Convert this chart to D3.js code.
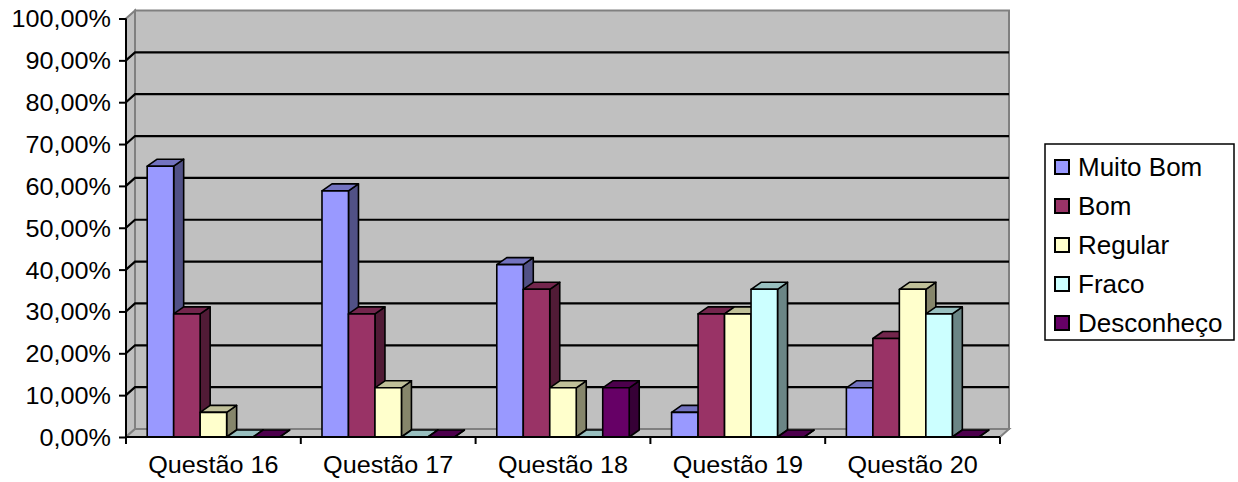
<!DOCTYPE html>
<html>
<head>
<meta charset="utf-8">
<script src="https://cdn.jsdelivr.net/npm/d3@7"></script>
<style>
  body { margin: 0; background: #fff; }
  text { font-family: "Liberation Sans", Arial, sans-serif; fill: #000; }
</style>
</head>
<body>
<div class="chart"></div>
<script>
(() => {
  const categories = ["Questão 16", "Questão 17", "Questão 18", "Questão 19", "Questão 20"];
  const seriesNames = ["Muito Bom", "Bom", "Regular", "Fraco", "Desconheço"];
  const muitoBom = [0.6471, 0.5882, 0.4118, 0.0588, 0.1176];
  const bom = [0.2941, 0.2941, 0.3529, 0.2941, 0.2353];
  const regular = [0.0588, 0.1176, 0.1176, 0.2941, 0.3529];
  const fraco = [0, 0, 0, 0.3529, 0.2941];
  const desconheco = [0, 0, 0.1176, 0, 0];
  const colors = ["#9999ff", "#993366", "#ffffcc", "#ccffff", "#660066"];

  const seriesValues = [muitoBom, bom, regular, fraco, desconheco];

  const width = 1238, height = 482;
  const left = 126, right = 1000, bottom = 437, top = 18.5;
  const wallDx = 9, wallDy = 8; // depth of the walls
  const barDx = 10, barDy = 7; // depth of each column
  const sx = 1.05; // fonts look a bit wider than Liberation Sans

  const pt = d3.formatLocale({ decimal: ",", thousands: ".", grouping: [3], currency: ["", ""] });
  const fmt = pt.format(".2%");

  const svg = d3.select(".chart").append("svg")
    .attr("width", width).attr("height", height);

  const x0 = d3.scaleBand().domain(categories).range([left, right]).padding(0);
  const x1 = d3.scaleBand().domain(seriesNames).range([0, x0.bandwidth()])
    .paddingInner(0).paddingOuter(0.8);
  const y = d3.scaleLinear().domain([0, 1]).range([bottom, top]);

  const poly = (pts) => "M" + pts.map((p) => p.join(",")).join("L") + "Z";

  // walls and floor
  const walls = svg.append("g").attr("class", "walls");
  walls.append("path")
    .attr("d", poly([[left + wallDx, y(1) - wallDy], [right + wallDx, y(1) - wallDy],
      [right + wallDx, y(0) - wallDy], [left + wallDx, y(0) - wallDy]]))
    .style("fill", "#c0c0c0").style("stroke", "#808080").style("stroke-width", 2);
  walls.append("path")
    .attr("d", poly([[left, y(1)], [left + wallDx, y(1) - wallDy],
      [left + wallDx, y(0) - wallDy], [left, y(0)]]))
    .style("fill", "#c0c0c0").style("stroke", "#808080").style("stroke-width", 2);
  walls.append("path")
    .attr("d", poly([[left, y(0)], [left + wallDx, y(0) - wallDy],
      [right + wallDx, y(0) - wallDy], [right, y(0)]]))
    .style("fill", "#c0c0c0").style("stroke", "#808080").style("stroke-width", 2);

  // gridlines
  const ticks = y.ticks(10);
  walls.selectAll(".grid")
    .data(ticks.filter((t) => t > 0 && t < 1))
    .enter().append("path")
    .attr("class", "grid")
    .attr("d", (t) => `M${left},${y(t)}L${left + wallDx},${y(t) - wallDy}L${right + wallDx},${y(t) - wallDy}`)
    .style("fill", "none").style("stroke", "#000").style("stroke-width", 2.2);

  // columns
  const shade = (c, k) => d3.rgb(c).darker(k).formatHex();
  const groups = svg.selectAll(".cat")
    .data(categories).enter().append("g")
    .attr("class", "cat")
    .attr("transform", (c) => `translate(${x0(c)},0)`);

  groups.each(function (c, ci) {
    const g = d3.select(this);
    seriesNames.forEach((s, si) => {
      const v = seriesValues[si][ci];
      const xa = x1(s), xb = xa + x1.bandwidth();
      const yt = y(v), yb = y(0);
      const bar = g.append("g").attr("class", "bar");
      bar.append("path")
        .attr("d", poly([[xb, yt], [xb + barDx, yt - barDy], [xb + barDx, yb - barDy], [xb, yb]]))
        .style("fill", shade(colors[si], 1.8));
      bar.append("path")
        .attr("d", poly([[xa, yt], [xb, yt], [xb + barDx, yt - barDy], [xa + barDx, yt - barDy]]))
        .style("fill", shade(colors[si], 0.8));
      if (v > 0) {
        bar.append("rect")
          .attr("x", xa).attr("y", yt)
          .attr("width", x1.bandwidth()).attr("height", yb - yt)
          .style("fill", colors[si]);
      }
      bar.selectAll("path,rect")
        .style("stroke", "#000").style("stroke-width", 1.6).style("stroke-linejoin", "round");
    });
  });

  // y axis
  const yAxis = svg.append("g")
    .attr("transform", `translate(${left},0)`)
    .call(d3.axisLeft(y).tickValues(ticks).tickFormat(fmt).tickSize(7).tickPadding(8));
  yAxis.select(".domain").attr("d", `M0,${y(1)}V${y(0)}`).style("stroke-width", 2);
  yAxis.selectAll(".tick line").style("stroke-width", 2);
  yAxis.selectAll("text").style("font-size", "24px")
    .attr("transform", `scale(${sx},1)`).attr("x", -15 / sx).attr("dy", "0.35em");

  // x axis
  const xAxis = svg.append("g")
    .attr("transform", `translate(0,${bottom})`)
    .call(d3.axisBottom(x0).tickSize(0).tickPadding(28));
  xAxis.select(".domain").attr("d", `M${left},0H${right}`).style("stroke-width", 2);
  xAxis.selectAll("text").style("font-size", "24px")
    .attr("transform", `scale(${sx},1)`)
    .attr("dy", "0.35em");
  xAxis.selectAll(".tick text").each(function () {
    const tx = d3.select(this.parentNode).attr("transform");
    const cx = +tx.match(/translate\(([\d.]+)/)[1];
    d3.select(this.parentNode).attr("transform", "translate(0,0)");
    d3.select(this).attr("x", cx / sx);
  });
  xAxis.selectAll(".sep")
    .data(d3.range(categories.length + 1)).enter().append("line")
    .attr("class", "sep")
    .attr("x1", (i) => left + i * x0.step()).attr("x2", (i) => left + i * x0.step())
    .attr("y1", 0).attr("y2", 7)
    .style("stroke", "#000").style("stroke-width", 2);

  // legend
  const legend = svg.append("g").attr("transform", "translate(1045,144)");
  legend.append("rect").attr("width", 189).attr("height", 196)
    .style("fill", "#fff").style("stroke", "#000").style("stroke-width", 1.5);
  const item = legend.selectAll(".item").data(seriesNames).enter().append("g")
    .attr("class", "item")
    .attr("transform", (_, i) => `translate(0,${23 + i * 39})`);
  item.append("rect").attr("x", 10).attr("y", -7).attr("width", 14).attr("height", 14)
    .style("fill", (_, i) => colors[i]).style("stroke", "#000").style("stroke-width", 2);
  item.append("text").attr("x", 33).attr("dy", "0.35em")
    .style("font-size", "26px").text((d) => d);
})();
</script>
</body>
</html>
